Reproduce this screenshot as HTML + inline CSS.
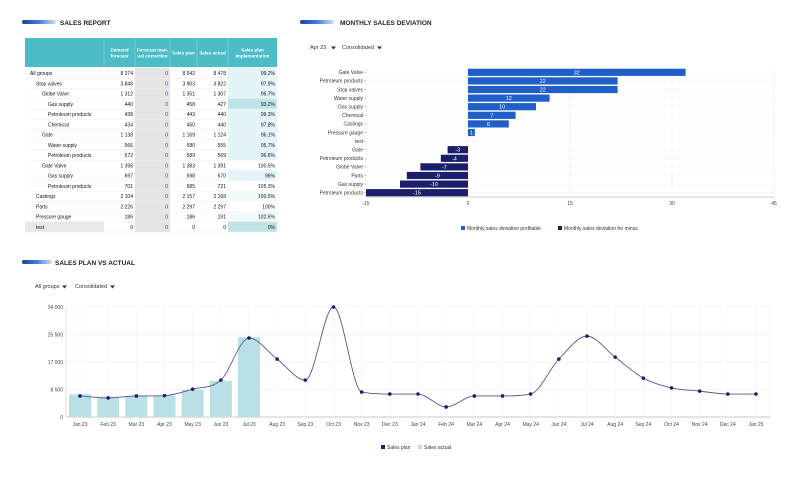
<!DOCTYPE html>
<html><head><meta charset="utf-8">
<style>
html,body{margin:0;padding:0;background:#fff;width:795px;height:478px;overflow:hidden;font-family:"Liberation Sans",Arial,sans-serif}
svg text{font-family:"Liberation Sans",Arial,sans-serif}
</style></head>
<body>
<svg id="root" width="795" height="478" viewBox="0 0 795 478">
<defs>
<linearGradient id="tg" x1="0" x2="1"><stop offset="0" stop-color="#1a3fa8"/><stop offset="0.5" stop-color="#3f7fd6"/><stop offset="1" stop-color="#cfe3f7"/></linearGradient>
</defs>
<g><rect x="22" y="20" width="34" height="4" rx="2" fill="url(#tg)"/><text x="60" y="25" font-size="6.5" font-weight="bold" fill="#222">SALES REPORT</text></g>
<g><rect x="300" y="20" width="34" height="4" rx="2" fill="url(#tg)"/><text x="340" y="25" font-size="6.5" font-weight="bold" fill="#222">MONTHLY SALES DEVIATION</text></g>
<g><rect x="22" y="260" width="30" height="4" rx="2" fill="url(#tg)"/><text x="55" y="265" font-size="6.5" font-weight="bold" fill="#222">SALES PLAN VS ACTUAL</text></g>
<g><text x="310" y="49" font-size="5.5" fill="#333">Apr 23</text><path d="M331 46.5h5l-2.5 3z" fill="#333"/></g>
<g><text x="342" y="49" font-size="5.5" fill="#333">Consolidated</text><path d="M377 46.5h5l-2.5 3z" fill="#333"/></g>
<g><text x="35" y="288" font-size="5.5" fill="#333">All groups</text><path d="M62 285.5h5l-2.5 3z" fill="#333"/></g>
<g><text x="75" y="288" font-size="5.5" fill="#333">Consolidated</text><path d="M110 285.5h5l-2.5 3z" fill="#333"/></g>
<g id="table"></g>
<g id="bars"></g>
<g id="line"></g>
</svg>
<script>
const NS="http://www.w3.org/2000/svg";
function mk(p,tag,a,txt){const e=document.createElementNS(NS,tag);for(const k in a)e.setAttribute(k,a[k]);if(txt!==undefined)e.textContent=txt;p.appendChild(e);return e;}

// ---------- TABLE ----------
const rowNames=["All groups","Stop valves","Globe Valve","Gas supply","Petroleum products","Chemical","Gate","Water supply","Petroleum products","Gate Valve","Gas supply","Petroleum products","Castings","Parts","Pressure gauge","test"];
const rowIndent=[0,1,2,3,3,3,2,3,3,2,3,3,1,1,1,1];
const demandVals=["8 374","3 848","1 312","440","438","434","1 138","566","572","1 398","697","701","2 104","2 226","186","0"];
const planVals=["8 542","3 903","1 351","458","443","450","1 169","580","589","1 383","698","685","2 157","2 297","186","0"];
const actualVals=["8 478","3 822","1 307","427","440","440","1 124","555","569","1 391","670","721","2 168","2 297","191","0"];
const implVals=["99.2%","97.9%","96.7%","93.2%","99.3%","97.8%","96.1%","95.7%","96.6%","100.5%","96%","105.3%","100.5%","100%","102.6%","0%"];
(function(){
 const g=document.getElementById('table');
 const cols=[25,104,135,170,197,228,277];
 const hy=38,hh=29,rh=10.25;
 mk(g,'rect',{x:25,y:hy,width:252,height:hh,fill:'#4cbcc6'});
 const heads=[["Demand","forecast"],["Forecast man-","ual correction"],["Sales plan"],["Sales actual"],["Sales plan","implementation"]];
 heads.forEach((h,i)=>{const cx=(cols[i+1]+cols[i+2])/2;
  h.forEach((l,j)=>{const t=mk(g,'text',{x:cx,y:hy+hh/2+2+(j-(h.length-1)/2)*6,'font-size':4.6,'font-weight':'bold',fill:'#fff','text-anchor':'middle'},l);});
  mk(g,'line',{x1:cols[i+1],y1:hy,x2:cols[i+1],y2:hy+hh,stroke:'#8fd6dc','stroke-width':0.6});
 });
 const y0=hy+hh+1;
 mk(g,'rect',{x:cols[2],y:y0,width:cols[3]-cols[2],height:rh*16,fill:'#e4e4e4'});
 rowNames.forEach((n,i)=>{
  const y=y0+i*rh, ty=y+rh/2+2;
  const row=mk(g,'g',{});
  
  
  if(i===15) mk(row,'rect',{x:25,y:y,width:79,height:rh,fill:'#e8e8e8'});
  const v=parseFloat(implVals[i]);
  let f=v<=95?'#bfe3e6':'#e4f5f7'; if(i===15)f='#bfe3e6';
  if(v>=100&&i!==15&&i!==12&&i!==14) f='#fff';
  if(i===12||i===14) f='#f3fafb';
  mk(row,'rect',{x:cols[5],y:y,width:cols[6]-cols[5],height:rh,fill:f});
  mk(row,'line',{x1:25,y1:y+rh,x2:277,y2:y+rh,stroke:'#eeeeee','stroke-width':0.5});
  mk(row,'text',{x:30+rowIndent[i]*6,y:ty,'font-size':5,fill:'#111'},n);
  mk(row,'text',{x:cols[2]-2,y:ty,'font-size':5,fill:'#111','text-anchor':'end'},demandVals[i]);
  mk(row,'text',{x:cols[3]-2,y:ty,'font-size':5,fill:'#3b3bd0','text-anchor':'end'},'0');
  mk(row,'text',{x:cols[4]-2,y:ty,'font-size':5,fill:'#111','text-anchor':'end'},planVals[i]);
  mk(row,'text',{x:cols[5]-2,y:ty,'font-size':5,fill:'#111','text-anchor':'end'},actualVals[i]);
  mk(row,'text',{x:cols[6]-2,y:ty,'font-size':5,fill:'#111','text-anchor':'end'},implVals[i]);
 });
})();

// ---------- DEVIATION BARS ----------
const devCats=["Gate Valve","Petroleum products","Stop valves","Water supply","Gas supply","Chemical","Castings","Pressure gauge","test","Gate","Petroleum products","Globe Valve","Parts","Gas supply","Petroleum products"];
const devVals=[32,22,22,12,10,7,6,1,0,-3,-4,-7,-9,-10,-15];
const devTicks=[-15,0,15,30,45];
(function(){
 const g=document.getElementById('bars');
 const x0=366,x1=774,vmin=-15,vmax=45;
 const X=v=>x0+(v-vmin)/(vmax-vmin)*(x1-x0);
 const top=68,step=8.6;
 devTicks.forEach(t=>{mk(g,'line',{x1:X(t),y1:top,x2:X(t),y2:top+step*15,stroke:'#e6e6ee','stroke-width':0.6});
  const tl=mk(g,'text',{x:X(t),y:top+step*15+8,'font-size':5,fill:'#444','text-anchor':'middle'},t);});
 mk(g,'line',{x1:x0,y1:top+step*15,x2:x1,y2:top+step*15,stroke:'#bbb','stroke-width':0.8});
 devCats.forEach((c,i)=>{
  const cy=top+step*i+step/2;
  mk(g,'line',{x1:x0,y1:cy,x2:x1,y2:cy,stroke:'#f0f0f4','stroke-width':0.5});
  const cl=mk(g,'text',{x:x0-3,y:cy+1.8,'font-size':5,fill:'#333','text-anchor':'end'},c);
  
  mk(g,'line',{x1:x0-2,y1:cy,x2:x0,y2:cy,stroke:'#999','stroke-width':0.5});
  const v=devVals[i]; if(v===0) return;
  const a=Math.min(X(0),X(v)),w=Math.abs(X(v)-X(0));
  const r=mk(g,'rect',{x:a,y:cy-3.6,width:w,height:7.2,fill:v>0?'#1f5fc7':'#1b1f6b'});
  
  mk(g,'text',{x:a+w/2,y:cy+2,'font-size':5.5,fill:'#fff','text-anchor':'middle'},v);
 });
 const l1=mk(g,'g',{});
 mk(l1,'rect',{x:461,y:226,width:4,height:4,fill:'#1f5fc7'});mk(l1,'text',{x:467,y:230,'font-size':5,fill:'#333'},'Monthly sales deviation profitable');
 const l2=mk(g,'g',{});
 mk(l2,'rect',{x:558,y:226,width:4,height:4,fill:'#1b1f6b'});mk(l2,'text',{x:564,y:230,'font-size':5,fill:'#333'},'Monthly sales deviation for minus');
})();

// ---------- PLAN VS ACTUAL ----------
const months=["Jan 23","Feb 23","Mar 23","Apr 23","May 23","Jun 23","Jul 23","Aug 23","Sep 23","Oct 23","Nov 23","Dec 23","Jan 24","Feb 24","Mar 24","Apr 24","May 24","Jun 24","Jul 24","Aug 24","Sep 24","Oct 24","Nov 24","Dec 24","Jan 25"];
const planSeries=[6500,5900,6500,6600,8600,11400,24400,17900,11400,34000,7700,7100,7100,3100,6500,6500,7100,17900,25000,18500,12000,9000,8000,7100,7100];
const actualSeries=[7000,6300,6600,6700,8400,11200,24700];
const yTicks=[0,8500,17000,25500,34000];
const yTickLabels=["0","8 500","17 000","25 500","34 000"];
(function(){
 const g=document.getElementById('line');
 const px0=66,px1=770,yb=417,yt=307,ymax=34000;
 const step=(756-80)/24;
 const X=i=>80+i*step, Y=v=>yb-v/ymax*(yb-yt);
 yTicks.forEach((t,i)=>{mk(g,'line',{x1:px0,y1:Y(t),x2:px1,y2:Y(t),stroke:'#ececec','stroke-width':0.6});
  const tl=mk(g,'text',{x:px0-3,y:Y(t)+1.8,'font-size':5,fill:'#444','text-anchor':'end'},yTickLabels[i]);});
 mk(g,'line',{x1:px0,y1:yt,x2:px0,y2:yb,stroke:'#ccc','stroke-width':0.6});
 mk(g,'line',{x1:px1,y1:yt,x2:px1,y2:yb,stroke:'#ececec','stroke-width':0.6});
 mk(g,'line',{x1:px0,y1:yb,x2:px1,y2:yb,stroke:'#bbb','stroke-width':0.8});
 months.forEach((m,i)=>{mk(g,'line',{x1:X(i),y1:yt,x2:X(i),y2:yb+2,stroke:'#eeeeee','stroke-width':0.5});
  const tl=mk(g,'text',{x:X(i),y:yb+9,'font-size':5,fill:'#444','text-anchor':'middle'},m);});
 actualSeries.forEach((v,i)=>{const r=mk(g,'rect',{x:X(i)-11,y:Y(v),width:22,height:yb-Y(v),fill:'#b9e0e4'});
  });
 // monotone cubic (Fritsch-Carlson)
 const pts=planSeries.map((v,i)=>[X(i),Y(v)]);
 const n=pts.length, dx=step;
 const s=[];for(let i=0;i<n-1;i++)s.push((pts[i+1][1]-pts[i][1])/dx);
 const m=[s[0]];
 for(let i=1;i<n-1;i++){m.push(s[i-1]*s[i]<=0?0:(s[i-1]+s[i])/2);}
 m.push(s[n-2]);
 for(let i=0;i<n-1;i++){if(s[i]===0){m[i]=0;m[i+1]=0;continue;}const a=m[i]/s[i],b=m[i+1]/s[i],h=a*a+b*b;if(h>9){const t=3/Math.sqrt(h);m[i]=t*a*s[i];m[i+1]=t*b*s[i];}}
 let d='M'+pts[0][0]+' '+pts[0][1];
 for(let i=0;i<n-1;i++){const p1=pts[i],p2=pts[i+1];
  d+=` C${p1[0]+dx/3} ${p1[1]+m[i]*dx/3} ${p2[0]-dx/3} ${p2[1]-m[i+1]*dx/3} ${p2[0]} ${p2[1]}`;}
 const ln=mk(g,'path',{d:d,fill:'none',stroke:'#55588e','stroke-width':0.9});
 
 pts.forEach(p=>{const c=mk(g,'circle',{cx:p[0],cy:p[1],r:1.8,fill:'#1b1f6b'});});
 const l1=mk(g,'g',{});
 mk(l1,'rect',{x:381,y:445,width:4,height:4,fill:'#1b1f6b'});mk(l1,'text',{x:387,y:449,'font-size':5,fill:'#333'},'Sales plan');
 const l2=mk(g,'g',{});
 mk(l2,'rect',{x:418,y:445,width:4,height:4,fill:'#b9e0e4'});mk(l2,'text',{x:424,y:449,'font-size':5,fill:'#333'},'Sales actual');
})();
</script>
</body></html>
